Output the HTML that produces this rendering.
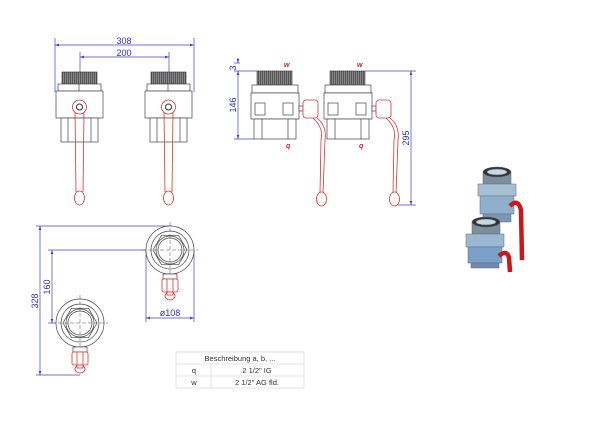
<!DOCTYPE html>
<html><head><meta charset="utf-8"><style>
html,body{margin:0;padding:0;background:#fff;width:600px;height:425px;overflow:hidden}
svg{display:block}
.d{stroke:#4040d0;stroke-width:0.7;fill:none}
.dt{fill:#3030c0;font-family:"Liberation Sans",sans-serif;font-size:9px}
.k{stroke:#444;stroke-width:0.7;fill:#fff}
.r{stroke:#e03030;stroke-width:0.8;fill:none}
.rf{stroke:#e03030;stroke-width:0.8;fill:#fff}
.th{fill:#666;stroke:#333;stroke-width:0.6}
</style></head><body>
<svg width="600" height="425" viewBox="0 0 600 425">
<defs>
<marker id="a" viewBox="0 0 6 6" refX="6" refY="3" markerWidth="6" markerHeight="6" orient="auto-start-reverse"><path d="M0,1 L6,3 L0,5z" fill="#4040d0"/></marker>
<pattern id="hp" width="2" height="2" patternUnits="userSpaceOnUse"><rect width="2" height="2" fill="#888"/><rect width="1" height="2" fill="#555"/></pattern>
<g id="fv">
 <rect x="62" y="72" width="35" height="12" fill="url(#hp)" stroke="#333" stroke-width="0.6"/>
 <rect class="k" x="58" y="84" width="43" height="7"/>
 <rect class="k" x="56" y="91" width="47" height="27"/>
 <rect class="k" x="61" y="118" width="37" height="24"/>
 <line class="k" x1="68" y1="118" x2="68" y2="142"/><line class="k" x1="91" y1="118" x2="91" y2="142"/>
 <line class="k" x1="79" y1="84" x2="79" y2="91"/>
 <path class="r" d="M75,112 L76,192 M84,112 L83,192"/>
 <ellipse class="rf" cx="79.5" cy="198" rx="5" ry="7"/>
 <circle class="rf" cx="79.5" cy="107" r="7"/>
 <circle cx="79.5" cy="107" r="3" fill="#fff" stroke="#333" stroke-width="1"/>
</g>
<g id="sv">
 <rect x="257" y="71" width="35" height="14" fill="url(#hp)" stroke="#333" stroke-width="0.6"/>
 <rect class="k" x="252" y="85" width="46" height="8"/>
 <rect class="k" x="251" y="93" width="48" height="26"/>
 <rect class="k" x="254" y="119" width="42" height="20"/>
 <line class="k" x1="262" y1="119" x2="262" y2="139"/><line class="k" x1="288" y1="119" x2="288" y2="139"/>
 <rect class="k" x="255" y="103" width="10" height="12"/><rect class="k" x="283" y="103" width="10" height="12"/>
 <rect class="k" x="299" y="106" width="4" height="5"/>
 <rect class="rf" x="303" y="100" width="15" height="18" rx="3"/>
 <path class="r" d="M313,118 Q324,128 321,140 L320,193 M317,118 Q327,126 325,140 L323,193"/>
 <ellipse class="rf" cx="321.5" cy="199" rx="5" ry="7"/>
</g>
<g id="tv">
 <circle class="k" cx="0" cy="0" r="24"/>
 <circle class="k" cx="0" cy="0" r="19"/>
 <polygon class="k" points="17,0 8.5,14.7 -8.5,14.7 -17,0 -8.5,-14.7 8.5,-14.7"/>
 <circle class="k" cx="0" cy="0" r="14"/>
 <circle class="k" cx="0" cy="0" r="12"/>
 <path d="M-28,0H28M0,-28V28" stroke="#555" stroke-width="0.5" stroke-dasharray="4,2"/>
 <rect class="k" x="-7" y="24" width="14" height="5"/>
 <rect class="rf" x="-8" y="29" width="16" height="13" rx="2"/>
 <line class="r" x1="-3" y1="29" x2="-3" y2="42"/><line class="r" x1="3" y1="29" x2="3" y2="42"/>
 <ellipse class="rf" cx="0" cy="46" rx="5" ry="4"/>
 <rect class="rf" x="-3" y="42" width="6" height="3"/>
</g>
</defs>

<line class="d" x1="55" y1="38" x2="55" y2="92"/>
<line class="d" x1="194" y1="38" x2="194" y2="92"/>
<line class="d" x1="80" y1="52" x2="80" y2="100"/>
<line class="d" x1="169" y1="52" x2="169" y2="100"/>
<line class="d" x1="55" y1="45" x2="194" y2="45" marker-start="url(#a)" marker-end="url(#a)"/>
<line class="d" x1="80" y1="57" x2="169" y2="57" marker-start="url(#a)" marker-end="url(#a)"/>
<text class="dt" x="124" y="44" text-anchor="middle">308</text>
<text class="dt" x="124" y="56" text-anchor="middle">200</text>
<use href="#fv"/>
<use href="#fv" x="89"/>

<use href="#sv"/>
<use href="#sv" x="73"/>
<line class="d" x1="234" y1="71" x2="257" y2="71"/>
<line class="d" x1="234" y1="139" x2="254" y2="139"/>
<line class="d" x1="234" y1="63" x2="240" y2="63"/>
<line class="d" x1="238" y1="58" x2="238" y2="63" marker-end="url(#a)"/>
<line class="d" x1="238" y1="71" x2="238" y2="139" marker-start="url(#a)" marker-end="url(#a)"/>
<text class="dt" transform="translate(236,68) rotate(-90)" text-anchor="middle" font-size="7">3</text>
<text class="dt" transform="translate(236,105) rotate(-90)" text-anchor="middle">146</text>
<line class="d" x1="365" y1="71" x2="416" y2="71"/>
<line class="d" x1="398" y1="205" x2="416" y2="205"/>
<line class="d" x1="411" y1="71" x2="411" y2="205" marker-start="url(#a)" marker-end="url(#a)"/>
<text class="dt" transform="translate(409,138) rotate(-90)" text-anchor="middle">295</text>
<g fill="#d02020" font-family="Liberation Sans,sans-serif" font-size="7" font-weight="bold" font-style="italic">
<text x="284" y="67">w</text><text x="357" y="67">w</text>
<text x="286" y="148">q</text><text x="359" y="148">q</text>
</g>

<use href="#tv" x="170" y="250"/>
<use href="#tv" x="80" y="323"/>
<line class="d" x1="36" y1="226" x2="170" y2="226"/>
<line class="d" x1="48" y1="250" x2="146" y2="250"/>
<line class="d" x1="36" y1="375" x2="80" y2="375"/>
<line class="d" x1="48" y1="323" x2="56" y2="323"/>
<line class="d" x1="40" y1="226" x2="40" y2="375" marker-start="url(#a)" marker-end="url(#a)"/>
<line class="d" x1="52" y1="250" x2="52" y2="323" marker-start="url(#a)" marker-end="url(#a)"/>
<text class="dt" transform="translate(38,301) rotate(-90)" text-anchor="middle">328</text>
<text class="dt" transform="translate(50,287) rotate(-90)" text-anchor="middle">160</text>
<line class="d" x1="146" y1="250" x2="146" y2="322"/>
<line class="d" x1="194" y1="250" x2="194" y2="322"/>
<line class="d" x1="146" y1="318" x2="194" y2="318" marker-start="url(#a)" marker-end="url(#a)"/>
<text class="dt" x="170" y="316" text-anchor="middle">ø108</text>

<g stroke="#ccc" stroke-width="0.6" fill="none">
<rect x="176" y="352" width="128" height="36"/>
<line x1="176" y1="364" x2="304" y2="364"/><line x1="176" y1="376" x2="304" y2="376"/>
<line x1="211" y1="364" x2="211" y2="388"/>
</g>
<g font-family="Liberation Sans,sans-serif" font-size="7.5" fill="#333" text-anchor="middle">
<text x="240" y="361">Beschreibung a, b, ...</text>
<text x="194" y="373">q</text><text x="257" y="373">2 1/2" IG</text>
<text x="194" y="385">w</text><text x="257" y="385">2 1/2" AG fld.</text>
</g>

<g stroke="#667" stroke-width="0.5">
<rect x="483" y="172" width="28" height="12" fill="#7c8f9c"/>
<rect x="478" y="184" width="38" height="12" fill="#a7bfd2"/>
<rect x="480" y="196" width="34" height="18" fill="#8fb0cc"/>
<rect x="483" y="214" width="28" height="8" fill="#7a98b5"/>
<ellipse cx="497" cy="172" rx="14" ry="5" fill="#333"/>
<ellipse cx="497" cy="172" rx="10" ry="3" fill="#c5d8e6"/>
<path d="M510,206 Q518,198 521,210 L522,260" stroke="#c81818" stroke-width="4.5" fill="none"/>
<rect x="472" y="222" width="28" height="12" fill="#7c8f9c"/>
<rect x="466" y="234" width="38" height="13" fill="#9bb8d2"/>
<rect x="468" y="247" width="34" height="16" fill="#7aa0c6"/>
<rect x="471" y="263" width="28" height="5" fill="#6a8cb0"/>
<ellipse cx="486" cy="222" rx="14" ry="5" fill="#333"/>
<ellipse cx="486" cy="222" rx="10" ry="3" fill="#c5d8e6"/>
<path d="M499,256 Q507,249 509,258 L510,272" stroke="#c81818" stroke-width="4.5" fill="none"/>
</g>
</svg>
</body></html>
